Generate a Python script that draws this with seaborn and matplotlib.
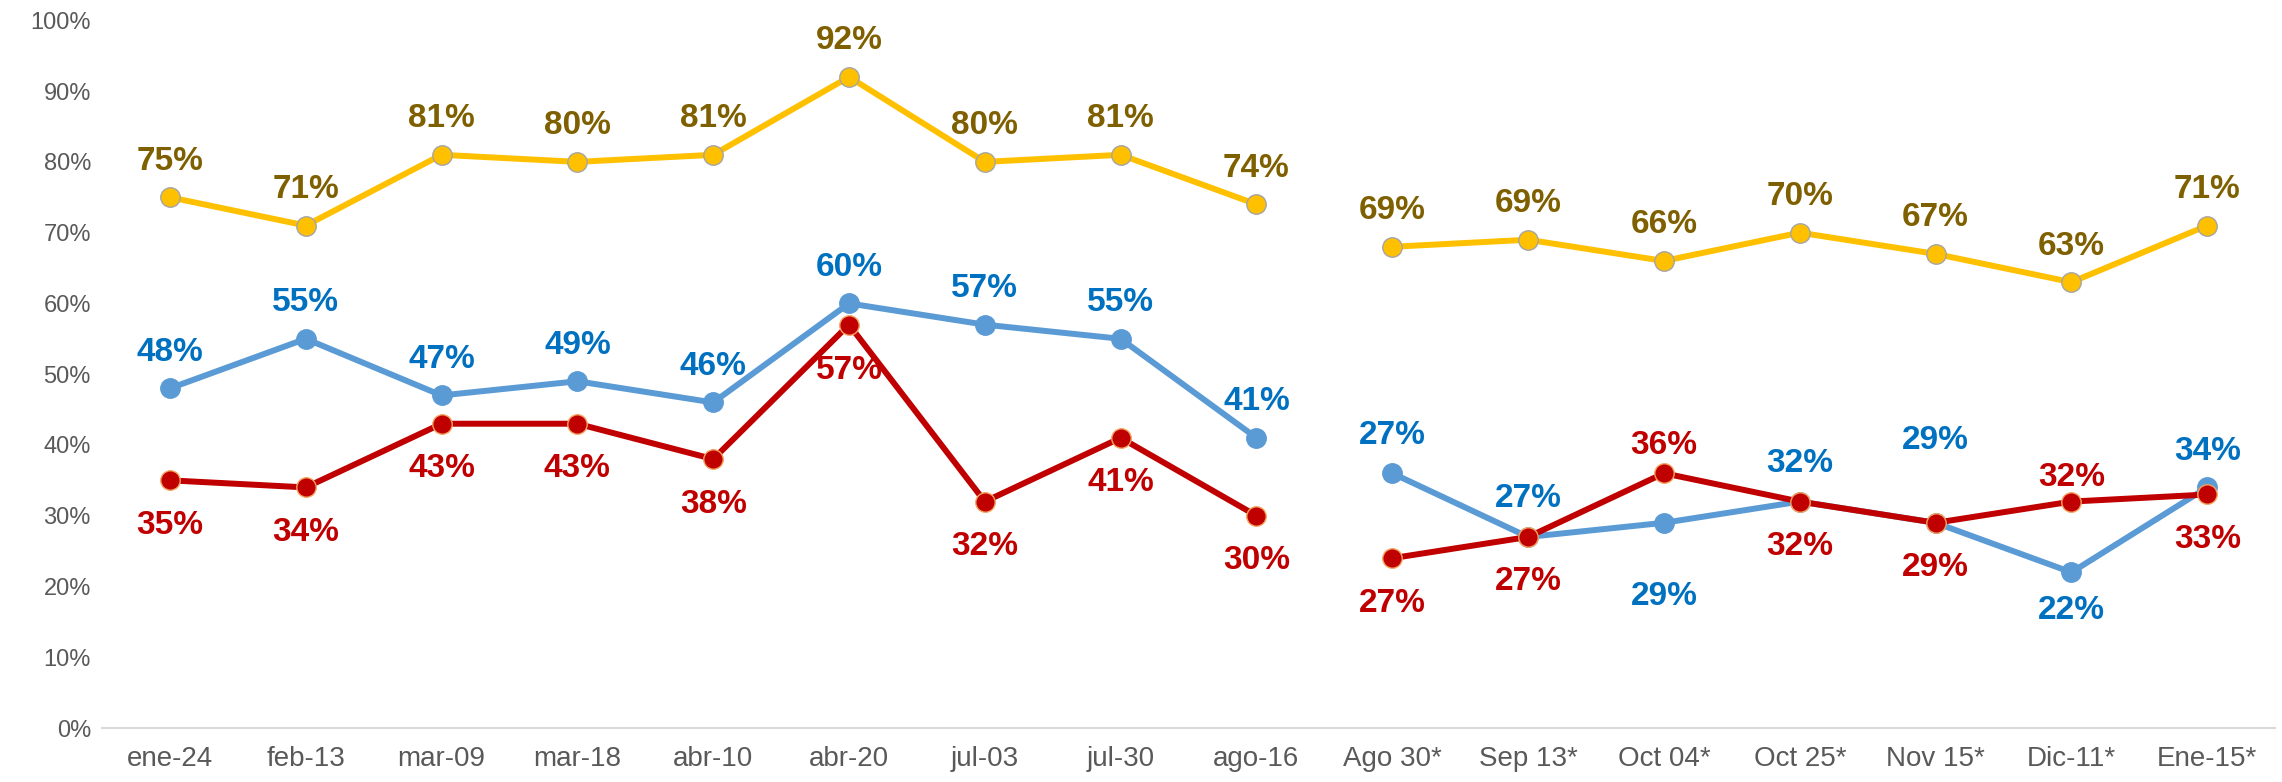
import pandas as pd
import numpy as np
import seaborn as sns
import matplotlib.pyplot as plt

# survey rounds; the starred ones belong to the second series (line is broken there)
categories = ["ene-24", "feb-13", "mar-09", "mar-18", "abr-10", "abr-20", "jul-03", "jul-30",
              "ago-16", "Ago 30*", "Sep 13*", "Oct 04*", "Oct 25*", "Nov 15*", "Dic-11*", "Ene-15*"]
segment = [1] * 9 + [2] * 7

yellow_vals = [75, 71, 81, 80, 81, 92, 80, 81, 74, 68, 69, 66, 70, 67, 63, 71]
blue_vals = [48, 55, 47, 49, 46, 60, 57, 55, 41, 36, 27, 29, 32, 29, 22, 34]
red_vals = [35, 34, 43, 43, 38, 57, 32, 41, 30, 24, 27, 36, 32, 29, 32, 33]

# printed labels (they do not always equal the plotted point)
yellow_labels = ["75%", "71%", "81%", "80%", "81%", "92%", "80%", "81%", "74%",
                 "69%", "69%", "66%", "70%", "67%", "63%", "71%"]
blue_labels = ["48%", "55%", "47%", "49%", "46%", "60%", "57%", "55%", "41%",
               "27%", "27%", "29%", "32%", "29%", "22%", "34%"]
red_labels = ["35%", "34%", "43%", "43%", "38%", "57%", "32%", "41%", "30%",
              "27%", "27%", "36%", "32%", "29%", "32%", "33%"]

sns.set_style("white")
plt.rcParams["font.family"] = ["Liberation Sans", "DejaVu Sans"]

rows = []
for name, vals in [("yellow", yellow_vals), ("blue", blue_vals), ("red", red_vals)]:
    for i, v in enumerate(vals):
        rows.append({"series": name, "x": i, "value": v / 100, "segment": segment[i]})
df = pd.DataFrame(rows)

styles = {
    "yellow": dict(line="#FFC000", edge="#A5A5A5", text="#7F6000"),
    "blue": dict(line="#5B9BD5", edge="#5B9BD5", text="#0070C0"),
    "red": dict(line="#C00000", edge="#F4A460", text="#C00000"),
}

# label offset in pixels (positive = above point)
offsets = {
    "yellow": [36] * 16,
    "blue": [36] * 9 + [38, 38, -74, 38, 82, -38, 36],
    "red": [-45] * 9 + [-45, -45, 28, -45, -45, 24, -45],
}
offsets["red"][5] = -46

fig = plt.figure(figsize=(22.82, 7.82), dpi=100)
ax = fig.add_axes([0.0447, 0.069, 0.9523, 0.905])

for name in ["yellow", "blue", "red"]:
    st = styles[name]
    sns.lineplot(data=df[df["series"] == name], x="x", y="value", units="segment",
                 estimator=None, sort=False, color=st["line"], linewidth=4.3,
                 marker="o", markersize=14, markeredgecolor=st["edge"],
                 markeredgewidth=1, ax=ax, zorder=3)

for name, vals, labels in [("yellow", yellow_vals, yellow_labels),
                           ("blue", blue_vals, blue_labels),
                           ("red", red_vals, red_labels)]:
    for i, (v, lab) in enumerate(zip(vals, labels)):
        ax.annotate(lab, (i, v / 100), xytext=(0, offsets[name][i] * 1.0),
                    textcoords="offset pixels", ha="center", va="center",
                    fontsize=24, fontweight="bold", color=styles[name]["text"], zorder=4)

ax.set_xlim(-0.5, len(categories) - 0.5)
ax.set_ylim(0, 1)
ax.set_xticks(range(len(categories)))
ax.set_xticklabels(categories)
ax.set_xticks(np.arange(-0.5, len(categories), 1), minor=True)
ax.tick_params(axis="x", which="major", length=0, pad=13, labelsize=20, labelcolor="#595959")
ax.tick_params(axis="x", which="minor", length=8, color="#D9D9D9", width=1.5, direction="out")
ax.set_yticks(np.arange(0, 1.01, 0.1))
ax.set_yticklabels([f"{int(t)}%" for t in np.arange(0, 101, 10)])
ax.tick_params(axis="y", length=0, pad=8, labelsize=17, labelcolor="#595959")
ax.set_xlabel("")
ax.set_ylabel("")
for side in ["top", "right", "left"]:
    ax.spines[side].set_visible(False)
ax.spines["bottom"].set_color("#D9D9D9")
ax.spines["bottom"].set_linewidth(1.5)
ax.grid(False)

fig.savefig("out.png", dpi=100)
